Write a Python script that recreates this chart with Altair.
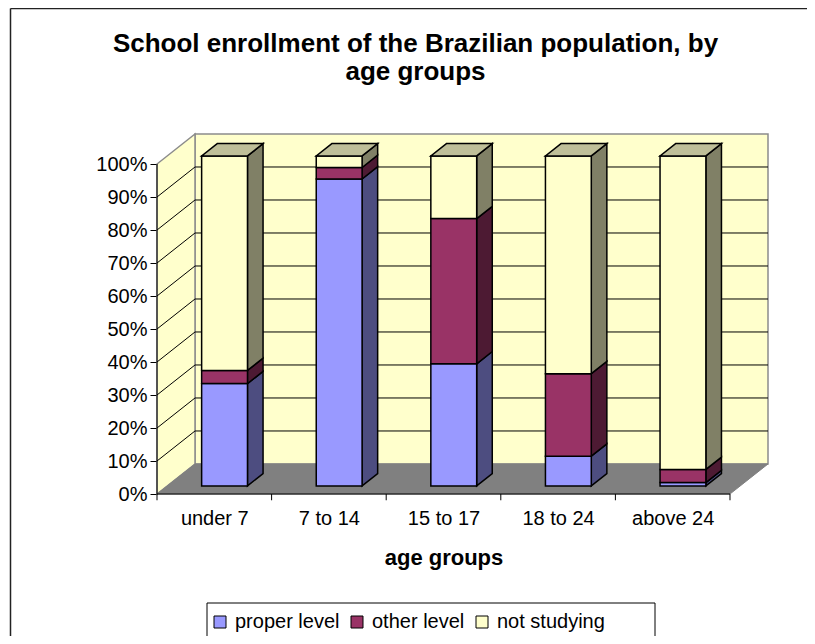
import altair as alt
import numpy as np
import pandas as pd

# ---------------- data ----------------
CATEGORIES = ["under 7", "7 to 14", "15 to 17", "18 to 24", "above 24"]
SERIES = ["proper level", "other level", "not studying"]
PROPER = [31, 93, 37, 9, 1]
OTHER = [4, 3.5, 44, 25, 4]
NOT_STUDYING = [65, 3.5, 19, 66, 95]
Y_TICKS = list(range(0, 101, 10))
GRID_LEVELS = list(range(10, 100, 10))
TITLE_LINES = ["School enrollment of the Brazilian population, by", "age groups"]
X_TITLE = "age groups"

# ---------------- style ----------------
FRONT_COLORS = ["#9999FF", "#993366", "#FFFFCC"]
SIDE_COLORS = ["#4D4D80", "#4D1A33", "#808066"]
TOP_COLOR = "#BFBF99"
WALL = "#FFFFCC"
FLOOR = "#808080"
EDGE = "#8C8C8C"
FONT = "Liberation Sans"

DX, DY = 0.3316, 9.1      # depth of the 3-D box (category units, percent units)
BW = 0.4                  # bar width (category units)
F1, F2 = 0.27, 0.68       # depth fractions of bar front / back
W, H = 611, 360
N = len(CATEGORIES)

xs = alt.Scale(domain=[0, N + DX], nice=False, zero=False)
ys = alt.Scale(domain=[0, 100 + DY], nice=False, zero=False)

label_js = "[" + ",".join(f"'{c}'" for c in CATEGORIES) + "]"

X_AXIS = alt.Axis(
    values=[k + 0.5 for k in range(N)],
    labelExpr=label_js + "[floor(datum.value)]",
    ticks=False, domain=False, grid=False, labelFlush=False, labelOverlap=False,
    labelFont=FONT, labelFontSize=20, labelColor="black", labelPadding=14,
    title=X_TITLE, titleFont=FONT, titleFontSize=22, titleFontWeight="bold",
    titleColor="black", titleX=286.5, titleY=63, titleAlign="center",
    titleBaseline="middle")

Y_AXIS = alt.Axis(
    values=Y_TICKS, labelExpr="datum.value + '%'", title=None, grid=False,
    domain=False, ticks=True, tickSize=7, tickColor="black", tickWidth=1,
    labelFont=FONT, labelFontSize=20, labelColor="black", labelPadding=3,
    labelFlush=False, labelOverlap=False)


def X(field, **kw):
    return alt.X(field, scale=xs, axis=X_AXIS, **kw)


def Y(field, **kw):
    return alt.Y(field, scale=ys, axis=Y_AXIS, **kw)


# ---------------- geometry tables built from the data ----------------
vals = np.array([PROPER, OTHER, NOT_STUDYING], dtype=float)
cum = np.cumsum(vals, axis=0)
low = cum - vals

front, side, top = [], [], []
for i, cat in enumerate(CATEGORIES):
    x1 = i + 0.5 - BW / 2 + F1 * DX
    x2 = x1 + BW
    for s, name in enumerate(SERIES):
        a, b = low[s, i], cum[s, i]
        front.append(dict(category=cat, series=name, x=x1, x2=x2,
                          y=a + F1 * DY, y2=b + F1 * DY))
        for f in (F1, F2):
            side.append(dict(pid=f"{i}-{s}", fill=SIDE_COLORS[s],
                             x=x2 + (f - F1) * DX, y=a + f * DY, y2=b + f * DY))
    for f in (F1, F2):
        top.append(dict(pid=f"t{i}", y=cum[-1, i] + f * DY,
                        x=x1 + (f - F1) * DX, x2=x2 + (f - F1) * DX))

front_df = pd.DataFrame(front)
side_df = pd.DataFrame(side)
top_df = pd.DataFrame(top)

wall_df = pd.DataFrame([dict(x=DX, x2=N + DX, y=DY, y2=100 + DY)])
sidewall_df = pd.DataFrame([dict(x=0, y=0, y2=100), dict(x=DX, y=DY, y2=100 + DY)])
floor_df = pd.DataFrame([dict(y=0, x=0, x2=N), dict(y=DY, x=DX, x2=N + DX)])
back_grid = pd.DataFrame([dict(x=DX, x2=N + DX, y=v + DY, y2=v + DY) for v in GRID_LEVELS])
side_grid = pd.DataFrame([dict(x=0, x2=DX, y=v, y2=v + DY) for v in GRID_LEVELS])
yaxis_df = pd.DataFrame([dict(x=0, y=0, y2=100)])
xaxis_df = pd.DataFrame([dict(x=0, x2=N, y=0)])
xticks_df = pd.DataFrame([dict(x=k, y=0, y2=-1.9) for k in range(N + 1)])
one_row = pd.DataFrame({"k": [0]})
title_df = pd.DataFrame({"title": ["\n".join(TITLE_LINES)]})

# ---------------- layers ----------------
border_left = alt.Chart(one_row).mark_rule(color="#222222", strokeWidth=1.5).encode(
    x=alt.value(-146.5), y=alt.value(-125.5), y2=alt.value(520))
border_top = alt.Chart(one_row).mark_rule(color="#222222", strokeWidth=1.5).encode(
    x=alt.value(-146.5), x2=alt.value(650), y=alt.value(-125.5))

title = alt.Chart(title_df).mark_text(
    font=FONT, fontSize=26, fontWeight="bold", color="black", align="center",
    baseline="middle", lineBreak="\n", lineHeight=28).encode(
    text="title:N", x=alt.value(258.5), y=alt.value(-90.5))

legend_box = alt.Chart(one_row).mark_rect(fill="white", stroke="black", strokeWidth=1).encode(
    x=alt.value(50), x2=alt.value(498), y=alt.value(469), y2=alt.value(507))

wall = alt.Chart(wall_df).mark_rect(fill=WALL, stroke=EDGE, strokeWidth=1.5).encode(
    x=X("x:Q"), x2="x2:Q", y=Y("y:Q"), y2="y2:Q")

sidewall = alt.Chart(sidewall_df).mark_area(orient="vertical", fill=WALL, stroke=EDGE,
                                            strokeWidth=1.5).encode(
    x=X("x:Q"), y=Y("y:Q", stack=None), y2="y2:Q")

floor = alt.Chart(floor_df).mark_area(orient="horizontal", fill=FLOOR, stroke=FLOOR,
                                      strokeWidth=1).encode(
    y=Y("y:Q"), x=X("x:Q", stack=None), x2="x2:Q")

grid1 = alt.Chart(back_grid).mark_rule(color="black", strokeWidth=1).encode(
    x=X("x:Q"), x2="x2:Q", y=Y("y:Q"), y2="y2:Q")
grid2 = alt.Chart(side_grid).mark_rule(color="black", strokeWidth=1).encode(
    x=X("x:Q"), x2="x2:Q", y=Y("y:Q"), y2="y2:Q")

yaxis = alt.Chart(yaxis_df).mark_rule(color="black", strokeWidth=1).encode(
    x=X("x:Q"), y=Y("y:Q"), y2="y2:Q")

xaxis = alt.Chart(xaxis_df).mark_rule(color="black", strokeWidth=1).encode(
    x=X("x:Q"), x2="x2:Q", y=Y("y:Q"))

xticks = alt.Chart(xticks_df).mark_rule(color="black", strokeWidth=1).encode(
    x=X("x:Q"), y=Y("y:Q"), y2="y2:Q")

bars = alt.Chart(front_df).mark_rect(stroke="black", strokeWidth=1.5, opacity=1).encode(
    x=X("x:Q"), x2="x2:Q", y=Y("y:Q"), y2="y2:Q",
    color=alt.Color("series:N", scale=alt.Scale(domain=SERIES, range=FRONT_COLORS),
                    legend=alt.Legend(
                        orient="none", legendX=47, legendY=472, direction="horizontal",
                        title=None, labelFont=FONT, labelFontSize=20, labelColor="black",
                        symbolType="square", symbolSize=144, symbolStrokeColor="black",
                        symbolStrokeWidth=1, symbolOpacity=1, padding=6,
                        columnPadding=7, labelOffset=5, labelLimit=400)))

sides = alt.Chart(side_df).mark_area(orient="vertical", stroke="black",
                                     strokeWidth=1.5).encode(
    x=X("x:Q"), y=Y("y:Q", stack=None), y2="y2:Q",
    detail="pid:N",
    fill=alt.Fill("fill:N", scale=None))

tops = alt.Chart(top_df).mark_area(orient="horizontal", fill=TOP_COLOR, stroke="black",
                                   strokeWidth=1.5).encode(
    y=Y("y:Q"), x=X("x:Q", stack=None), x2="x2:Q",
    detail="pid:N")

chart = alt.layer(
    border_left, border_top, title, legend_box,
    wall, sidewall, floor, grid1, grid2, yaxis, xaxis, xticks,
    sides, bars, tops,
).properties(
    width=W, height=H,
    padding={"left": 149, "top": 126, "right": 39, "bottom": 142},
    autosize=alt.AutoSizeParams(type="none"),
    background="white",
).configure_view(stroke=None)

chart.save("out.html", embed_options={"renderer": "svg", "actions": False})
